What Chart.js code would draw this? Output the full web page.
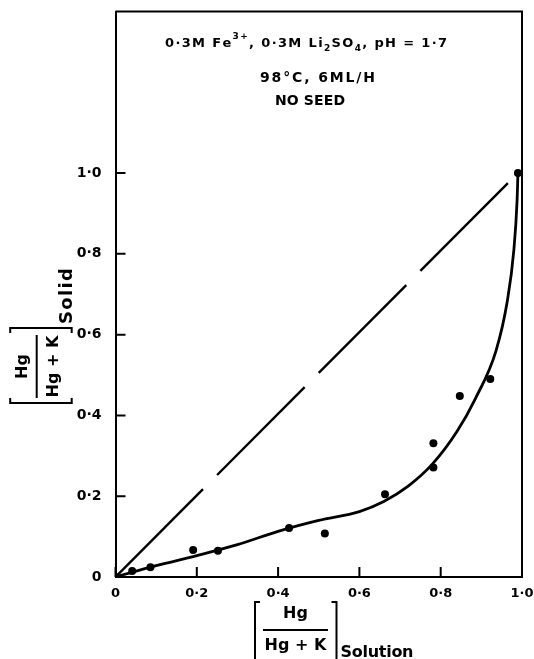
<!DOCTYPE html>
<html>
<head>
<meta charset="utf-8">
<script src="https://cdn.jsdelivr.net/npm/chart.js@4.4.1/dist/chart.umd.min.js"></script>
<style>
  html, body { margin: 0; padding: 0; background: #fff; }
  #wrap { width: 534px; height: 659px; }
</style>
</head>
<body>
<div id="wrap"><canvas id="hgChart" width="534" height="659"></canvas></div>
<script>
// Hg/(Hg+K) in solution vs in the solid
const solutionFrac = [0, 0.041, 0.086, 0.191, 0.252, 0.427, 0.515, 0.663, 0.782, 0.782, 0.847, 0.922, 0.99];
const solidFrac    = [0, 0.015, 0.024, 0.067, 0.065, 0.121, 0.108, 0.205, 0.331, 0.271, 0.448, 0.490, 1.0];

// hand-drawn fit through the points
const curveX = [0, 0.1, 0.2, 0.3, 0.4, 0.5, 0.6, 0.66, 0.72, 0.78, 0.84, 0.886, 0.936, 0.964, 0.98, 0.988, 0.99];
const curveY = [0, 0.028, 0.053, 0.08, 0.113, 0.14, 0.162, 0.187, 0.225, 0.28, 0.36, 0.443, 0.56, 0.684, 0.81, 0.934, 1.0];

// ideal (solid = solution) line
const idealX = [0, 0.97];
const idealY = [0, 0.98];

const tickValues = [0, 0.2, 0.4, 0.6, 0.8, 1.0];
const tickLabels = ['0', '0\u00b72', '0\u00b74', '0\u00b76', '0\u00b78', '1\u00b70'];

const FONT = '"DejaVu Sans", Verdana, sans-serif';
const toXY = (xs, ys) => xs.map((x, i) => ({ x: x, y: ys[i] }));

// draws text runs (with sub/superscripts) spread to a given width
function drawRuns(ctx, runs, cx, baseline, size, width) {
  const fontFor = r => 'bold ' + ((r.sup || r.sub) ? Math.round(size * 0.72) : size) + 'px ' + FONT;
  let natural = 0, chars = 0;
  runs.forEach(r => {
    ctx.font = fontFor(r);
    for (const ch of r.t) { natural += ctx.measureText(ch).width; chars++; }
  });
  const gap = width ? (width - natural) / Math.max(chars - 1, 1) : 0;
  let x = cx - (natural + gap * (chars - 1)) / 2;
  ctx.textAlign = 'left';
  ctx.textBaseline = 'alphabetic';
  runs.forEach(r => {
    ctx.font = fontFor(r);
    const dy = r.sup ? -size * 0.6 : r.sub ? size * 0.32 : 0;
    for (const ch of r.t) {
      ctx.fillText(ch, x, baseline + dy);
      x += ctx.measureText(ch).width + gap;
    }
  });
}

// [ Hg / Hg + K ] with a subscript word, drawn around (0,0)
function drawFraction(ctx, g, sub) {
  ctx.font = 'bold ' + g.size + 'px ' + FONT;
  ctx.textAlign = 'center';
  ctx.textBaseline = 'alphabetic';
  ctx.fillText('Hg', 0, g.numBase);
  ctx.fillText('Hg + K', 0, g.denBase);
  ctx.lineWidth = 2;
  ctx.beginPath();
  ctx.moveTo(-g.bar, 0); ctx.lineTo(g.bar, 0);
  // brackets
  ctx.moveTo(g.left + 5, g.top); ctx.lineTo(g.left, g.top); ctx.lineTo(g.left, g.bottom); ctx.lineTo(g.left + 5, g.bottom);
  ctx.moveTo(g.right - 5, g.top); ctx.lineTo(g.right, g.top); ctx.lineTo(g.right, g.bottom); ctx.lineTo(g.right - 5, g.bottom);
  ctx.stroke();
  drawRuns(ctx, [{ t: sub }], g.right + 4 + g.subWidth / 2, g.subBase, g.subSize || g.size, g.subWidth);
}

const framePlugin = {
  id: 'frame',
  afterDraw(chart) {
    const ctx = chart.ctx;
    const a = chart.chartArea;
    const xs = chart.scales.x, ys = chart.scales.y;
    ctx.save();
    ctx.strokeStyle = '#000';
    ctx.fillStyle = '#000';

    // top and right edges of the box
    ctx.lineWidth = 2;
    ctx.beginPath();
    ctx.moveTo(a.left, a.top); ctx.lineTo(a.right, a.top); ctx.lineTo(a.right, a.bottom);
    ctx.stroke();

    // inward tick marks
    ctx.beginPath();
    tickValues.forEach(v => {
      const px = xs.getPixelForValue(v);
      ctx.moveTo(px, a.bottom); ctx.lineTo(px, a.bottom - 10);
      const py = ys.getPixelForValue(v);
      ctx.moveTo(a.left, py); ctx.lineTo(a.left + 10, py);
    });
    ctx.stroke();

    // conditions
    drawRuns(ctx, [
      { t: '0\u00b73M Fe' }, { t: '3+', sup: true }, { t: ', 0\u00b73M Li' }, { t: '2', sub: true },
      { t: 'SO' }, { t: '4', sub: true }, { t: ', pH = 1\u00b77' }
    ], 306, 46.5, 13, 282);
    drawRuns(ctx, [{ t: '98\u00b0C, 6ML/H' }], 317.5, 82, 14, 115);
    drawRuns(ctx, [{ t: 'NO SEED' }], 310, 105, 14, 70);

    // x axis title
    ctx.save();
    ctx.translate(295.5, 630);
    drawFraction(ctx, { size: 16, numBase: -12, denBase: 20, bar: 32.5, left: -40.5, right: 41, top: -28, bottom: 33, subBase: 27, subWidth: 73 }, 'Solution');
    ctx.restore();

    // y axis title
    ctx.save();
    ctx.translate(36.7, 366.5);
    ctx.rotate(-Math.PI / 2);
    drawFraction(ctx, { size: 16, numBase: -10, denBase: 21, bar: 31.5, left: -36.5, right: 38.5, top: -26.5, bottom: 35, subBase: 35, subSize: 18, subWidth: 56 }, 'Solid');
    ctx.restore();

    ctx.restore();
  }
};

// keep the plot box fixed: no extra room for edge labels
function fixPadding(s) {
  s.paddingLeft = 0; s.paddingRight = 0; s.paddingTop = 0; s.paddingBottom = 0;
}

const axisCommon = {
  type: 'linear',
  min: 0,
  grid: { display: false, drawTicks: false },
  border: { display: true, color: '#000', width: 2 },
  afterBuildTicks: s => { s.ticks = tickValues.map(v => ({ value: v })); },
  ticks: {
    color: '#000',
    font: { family: FONT, size: 13, weight: 'bold' },
    callback: (v, i) => tickLabels[i]
  }
};

new Chart(document.getElementById('hgChart'), {
  type: 'scatter',
  data: {
    datasets: [
      {
        label: 'measured',
        data: toXY(solutionFrac, solidFrac),
        pointRadius: 4,
        pointBackgroundColor: '#000',
        pointBorderWidth: 0,
        showLine: false
      },
      {
        type: 'line',
        label: 'fit',
        data: toXY(curveX, curveY),
        borderColor: '#000',
        borderWidth: 2.8,
        pointRadius: 0,
        cubicInterpolationMode: 'monotone',
        fill: false
      },
      {
        type: 'line',
        label: 'ideal',
        data: toXY(idealX, idealY),
        borderColor: '#000',
        borderWidth: 2.4,
        borderDash: [124, 20],
        pointRadius: 0,
        fill: false
      }
    ]
  },
  options: {
    responsive: false,
    animation: false,
    layout: { padding: { top: 11.5, right: 12, left: 0, bottom: 0 } },
    plugins: { legend: { display: false }, tooltip: { enabled: false } },
    scales: {
      x: Object.assign({}, axisCommon, {
        max: 1,
        afterFit: s => { s.height = 82; fixPadding(s); },
        ticks: Object.assign({}, axisCommon.ticks, { padding: 9 })
      }),
      y: Object.assign({}, axisCommon, {
        max: 1.4,
        afterFit: s => { s.width = 115.5; fixPadding(s); },
        ticks: Object.assign({}, axisCommon.ticks, { padding: 14, font: { family: FONT, size: 14, weight: 'bold' } })
      })
    }
  },
  plugins: [framePlugin]
});
</script>
</body>
</html>
